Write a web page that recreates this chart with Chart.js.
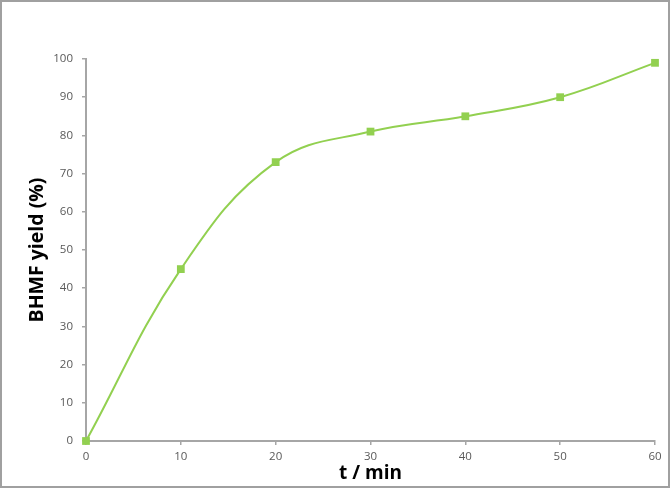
<!DOCTYPE html>
<html>
<head>
<meta charset="utf-8">
<script src="https://cdn.jsdelivr.net/npm/chart.js@4/dist/chart.umd.min.js"></script>
<style>
  html, body { margin: 0; padding: 0; background: #fff; }
  #wrap { width: 670px; height: 488px; position: relative; }
  canvas { display: block; }
</style>
</head>
<body>
<div id="wrap"><canvas id="c" width="670" height="488"></canvas></div>
<script>
const timeMin = [0, 10, 20, 30, 40, 50, 60];
const bhmfYield = [0, 45, 73, 81, 85, 90, 99];
const xTitle = 't / min';
const yTitle = 'BHMF yield (%)';

const lineColor = '#92D050';
const axisColor = '#a6a6a6';
const tickColor = '#595959';
const fontFamily = '"Open Sans", Lato, sans-serif';

const frame = {
  id: 'frame',
  beforeDraw(chart) {
    const ctx = chart.ctx;
    ctx.save();
    ctx.fillStyle = '#ffffff';
    ctx.fillRect(0, 0, chart.width, chart.height);
    ctx.restore();
  },
  afterDraw(chart) {
    const ctx = chart.ctx;
    ctx.save();
    ctx.strokeStyle = '#a0a0a0';
    ctx.lineWidth = 2;
    ctx.strokeRect(1, 1, chart.width - 2, chart.height - 2);
    ctx.restore();
  }
};

new Chart(document.getElementById('c'), {
  type: 'line',
  data: {
    datasets: [{
      data: timeMin.map((t, i) => ({ x: t, y: bhmfYield[i] })),
      borderColor: lineColor,
      backgroundColor: lineColor,
      borderWidth: 2,
      pointStyle: 'rect',
      pointRadius: 5.5,
      pointBorderWidth: 0,
      pointBackgroundColor: lineColor,
      tension: 0.4,
      fill: false,
      clip: false
    }]
  },
  options: {
    responsive: false,
    animation: false,
    layout: { padding: { left: 0, top: 59, right: 15, bottom: 0 } },
    plugins: { legend: { display: false }, tooltip: { enabled: false } },
    scales: {
      x: {
        type: 'linear',
        min: 0, max: 60,
        ticks: { stepSize: 10, color: tickColor, font: { family: fontFamily, size: 11.5 }, padding: 5, maxRotation: 0 },
        grid: { display: true, drawOnChartArea: false, drawTicks: true, tickLength: 4, color: axisColor, lineWidth: 1.5 },
        border: { display: true, color: axisColor, width: 2 },
        title: { display: true, text: xTitle, color: '#000', font: { family: fontFamily, size: 19, weight: 'bold' }, padding: { top: 0, bottom: 3 } },
        afterFit(scale) { scale.height = 47; }
      },
      y: {
        type: 'linear',
        min: 0, max: 100,
        ticks: { stepSize: 10, color: tickColor, font: { family: fontFamily, size: 11.5 }, padding: 9 },
        grid: { display: true, drawOnChartArea: false, drawTicks: true, tickLength: 4, color: axisColor, lineWidth: 1.5 },
        border: { display: true, color: axisColor, width: 2 },
        title: { display: true, text: yTitle, color: '#000', font: { family: fontFamily, size: 19.5, weight: 'bold' }, padding: { top: 26, bottom: 0 } },
        afterFit(scale) { scale.width = 86; }
      }
    }
  },
  plugins: [frame]
});
</script>
</body>
</html>
